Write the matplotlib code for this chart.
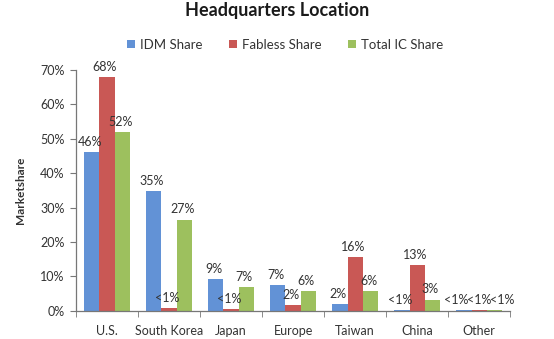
import numpy as np
import matplotlib.pyplot as plt

CATEGORIES = ["U.S.", "South Korea", "Japan", "Europe", "Taiwan", "China", "Other"]
SERIES = ["IDM Share", "Fabless Share", "Total IC Share"]
IDM = [46.2, 34.8, 9.3, 7.5, 2.0, 0.2, 0.3]
FABLESS = [67.8, 0.8, 0.5, 1.8, 15.7, 13.3, 0.3]
TOTAL = [52.0, 26.5, 6.9, 5.8, 5.8, 3.3, 0.3]
IDM_LABELS = ["46%", "35%", "9%", "7%", "2%", "<1%", "<1%"]
FABLESS_LABELS = ["68%", "<1%", "<1%", "2%", "16%", "13%", "<1%"]
TOTAL_LABELS = ["52%", "27%", "7%", "6%", "6%", "3%", "<1%"]

COLORS = ["#6292D6", "#C95855", "#9DC05E"]
TEXT = "#333333"

plt.rcParams.update({"font.family": ["Lato", "DejaVu Sans"]})

fig = plt.figure(figsize=(5.54, 3.39), dpi=100)
ax = fig.add_axes([0.137, 0.083, 0.784, 0.711])

x = np.arange(len(CATEGORIES))
w = 0.245
data = [IDM, FABLESS, TOTAL]
labels = [IDM_LABELS, FABLESS_LABELS, TOTAL_LABELS]
for i, (vals, labs) in enumerate(zip(data, labels)):
    pos = x + (i - 1) * w
    ax.bar(pos, vals, width=w, color=COLORS[i], label=SERIES[i])
    for j, (px, v, lab) in enumerate(zip(pos, vals, labs)):
        dx = -0.03
        if j == len(CATEGORIES) - 1:
            # spread the crowded "<1%" labels of the last group
            dx = (i - 1) * 0.12
        ax.text(px + dx, v + 1.2, lab, ha="center", va="bottom",
                fontsize=9, color=TEXT)

ax.set_xlim(-0.5, len(CATEGORIES) - 0.5)
ax.set_ylim(0, 70)
ax.set_yticks(np.arange(0, 71, 10))
ax.set_yticklabels([f"{v}%" for v in range(0, 71, 10)], fontsize=9, color=TEXT)
ax.set_xticks(x)
ax.set_xticklabels(CATEGORIES, fontsize=9, color=TEXT)
ax.set_xticks(np.arange(-0.5, len(CATEGORIES)), minor=True)
ax.tick_params(axis="x", which="major", length=0, pad=10)
ax.tick_params(axis="x", which="minor", length=4, color="#777777", direction="out")
ax.tick_params(axis="y", length=4, color="#777777", pad=4)
for s in ["top", "right"]:
    ax.spines[s].set_visible(False)
for s in ["left", "bottom"]:
    ax.spines[s].set_color("#777777")
    ax.spines[s].set_linewidth(0.9)

ax.set_ylabel("Marketshare", fontsize=8.5, fontweight="bold", color=TEXT, labelpad=10)
fig.text(0.5, 0.968, "Headquarters Location", ha="center", va="center",
         fontsize=13, fontweight="bold", color="#1a1a1a")
fig.legend(loc="center", bbox_to_anchor=(0.515, 0.868), ncol=3, frameon=False,
           fontsize=9.5, handlelength=0.6, handleheight=0.6, handletextpad=0.4,
           columnspacing=2.0, labelcolor=TEXT)

fig.savefig("out.png", dpi=100, facecolor="white")
